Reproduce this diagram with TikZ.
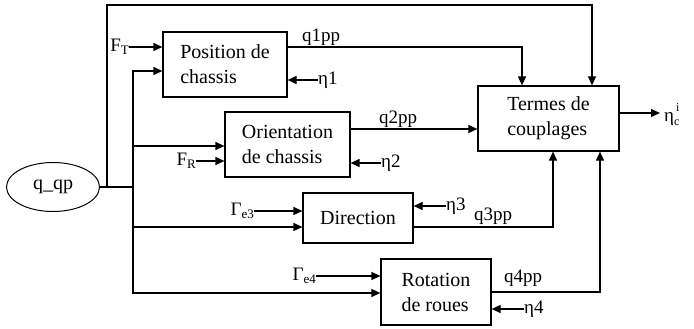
\documentclass[tikz,border=0pt]{standalone}
\usepackage{fontspec}
\setmainfont{Liberation Serif}
\usetikzlibrary{arrows.meta,shapes.geometric}
\newcommand{\mysub}[1]{\raisebox{-0.35ex}{\fontsize{13}{13}\selectfont #1}}
\newcommand{\mysup}[1]{\raisebox{1.1ex}{\fontsize{12}{12}\selectfont #1}}
\newcommand{\mylow}[1]{\raisebox{-0.5ex}{\fontsize{12}{12}\selectfont #1}}
\begin{document}
\begin{tikzpicture}[x=1pt,y=-1pt,
  every node/.style={font=\fontsize{20}{25}\selectfont, inner sep=0pt},
  blk/.style={draw, line width=1.2pt, align=left},
  lbl/.style={font=\fontsize{19}{22}\selectfont},
  conn/.style={line width=1.2pt},
  arr/.style={conn, -{Triangle[length=9pt,width=8pt]}}]
\useasboundingbox (0,0) rectangle (694,329);

% blocks
\node[blk, minimum width=124pt, minimum height=65pt] (P) at (225,64.5) {Position de\\chassis};
\node[blk, minimum width=125pt, minimum height=65pt] (O) at (287.5,144.5) {Orientation\\de chassis};
\node[blk, minimum width=141pt, minimum height=65pt] (T) at (548.5,118.5) {Termes de\\couplages};
\node[blk, minimum width=110pt, minimum height=50pt] (D) at (358,218) {Direction};
\node[blk, minimum width=110pt, minimum height=66pt] (R) at (436,292) {Rotation\\de roues};
\node[draw, ellipse, line width=1pt, minimum width=93pt, minimum height=49pt] (E) at (53,187) {q\_qp};

% junctions
\coordinate (j0) at (107,187);
\coordinate (j1) at (133,187);
\draw[conn] (E.east) -- (j1);
\draw[arr] (j1) |- ([yshift=-6.5pt]P.west);
\draw[arr] (j1) |- ([yshift=-1.5pt]O.west);
\draw[arr] (j1) |- ([yshift=-9pt]D.west);
\draw[arr] (j1) |- ([yshift=-1pt]R.west);
\draw[arr] (j0) -- ++(0,-182) -| ([xshift=43.5pt]T.north);

% inputs from left
\node[lbl, anchor=east] (FT) at (129,47) {F\mysub{T}};
\draw[arr] (FT.east) -- (FT.east -| P.west);
\node[lbl, anchor=east] (FR) at (196,161) {F\mysub{R}};
\draw[arr] (FR.east) -- (FR.east -| O.west);
\node[lbl, anchor=east] (G3) at (254,211) {Γ\mysub{e3}};
\draw[arr] (G3.east) -- (G3.east -| D.west);
\node[lbl, anchor=east] (G4) at (316,276) {Γ\mysub{e4}};
\draw[arr] (G4.east) -- (G4.east -| R.west);

% eta inputs from right
\node[lbl, anchor=west] (e1) at (318,80) {η1};
\draw[arr] (e1.west) -- (e1.west -| P.east);
\node[lbl, anchor=west] (e2) at (381,163) {η2};
\draw[arr] (e2.west) -- (e2.west -| O.east);
\node[lbl, anchor=west] (e3) at (446,206) {η3};
\draw[arr] (e3.west) -- (e3.west -| D.east);
\node[lbl, anchor=west] (e4) at (524,309) {η4};
\draw[arr] (e4.west) -- (e4.west -| R.east);

% outputs to coupling block
\draw[arr] ([yshift=17.5pt]P.east) -| ([xshift=-26.5pt]T.north);
\node[lbl] (q1) at (321,37) {q1pp};
\coordinate (o2) at ([yshift=15.5pt]O.east);
\draw[arr] (o2) -- (o2 -| T.west);
\node[lbl] (q2) at (398,119) {q2pp};
\draw[arr] ([yshift=-9pt]D.east) -| ([xshift=4.5pt]T.south);
\node[lbl] (q3) at (493,216) {q3pp};
\draw[arr] (R.east) -| ([xshift=51.5pt]T.south);
\node[lbl] (q4) at (523,278) {q4pp};

% output
\node[lbl, anchor=west] (eci) at (664,115) {η\rlap{\mysup{\,i}}\mylow{c}};
\coordinate (to) at ([yshift=5.5pt]T.east);
\draw[arr] (to) -- ([xshift=-4pt]to -| eci.west);
\end{tikzpicture}
\end{document}
